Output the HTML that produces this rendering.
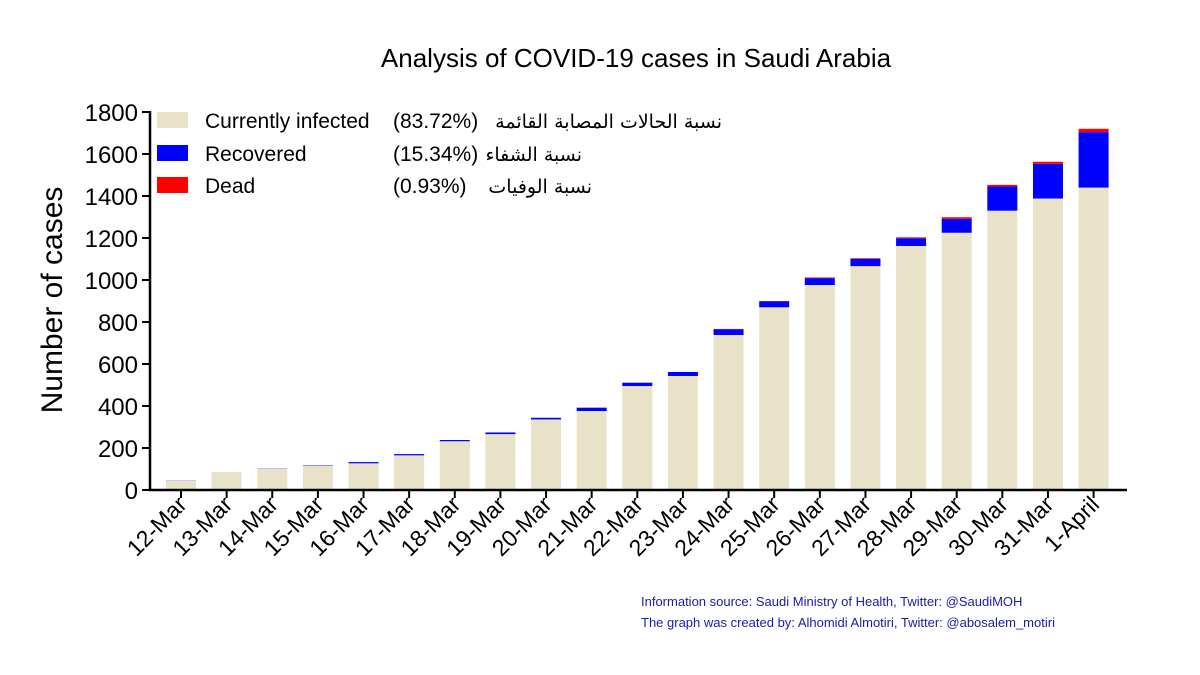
<!DOCTYPE html>
<html><head><meta charset="utf-8"><style>
body{margin:0;background:#fff;}
svg{display:block;font-family:"Liberation Sans",Arial,sans-serif;}
</style></head><body>
<svg id="chart" width="1200" height="675" viewBox="0 0 1200 675">
<text x="636" y="67" text-anchor="middle" font-size="26">Analysis of COVID-19 cases in Saudi Arabia</text>
<text transform="translate(62,300) rotate(-90)" text-anchor="middle" font-size="30">Number of cases</text>
<g id="bars"></g>
<g id="axes"></g>
<g font-size="21">
 <g>
  <rect x="157" y="112" width="31" height="16" fill="#e8e2c8"/>
  <text x="205" y="128">Currently infected</text>
  <text x="393" y="128">(83.72%)</text>
  <text x="722" y="128" text-anchor="start" font-family="'DejaVu Sans',sans-serif" font-size="19" direction="rtl">نسبة الحالات المصابة القائمة</text>
 </g>
 <g>
  <rect x="157" y="145" width="31" height="16" fill="#0000ff"/>
  <text x="205" y="161">Recovered</text>
  <text x="393" y="161">(15.34%)</text>
  <text x="582" y="161" text-anchor="start" font-family="'DejaVu Sans',sans-serif" font-size="19" direction="rtl">نسبة الشفاء</text>
 </g>
 <g>
  <rect x="157" y="177" width="31" height="16" fill="#ff0000"/>
  <text x="205" y="193">Dead</text>
  <text x="393" y="193">(0.93%)</text>
  <text x="592" y="193" text-anchor="start" font-family="'DejaVu Sans',sans-serif" font-size="19" direction="rtl">نسبة الوفيات</text>
 </g>
</g>
<text x="641" y="606" font-size="13" fill="#1a1ab0">Information source:  Saudi Ministry of Health, Twitter: @SaudiMOH</text>
<text x="641" y="627" font-size="13" fill="#1a1ab0">The graph was created by: Alhomidi Almotiri, Twitter: @abosalem_motiri</text>
</svg>
<script>
const categories = ["12-Mar","13-Mar","14-Mar","15-Mar","16-Mar","17-Mar","18-Mar","19-Mar","20-Mar","21-Mar","22-Mar","23-Mar","24-Mar","25-Mar","26-Mar","27-Mar","28-Mar","29-Mar","30-Mar","31-Mar","1-April"];
const infected = [44,86,102,116,127,165,232,266,336,376,495,543,738,870,976,1066,1162,1225,1330,1388,1440];
const recovered = [1,0,1,2,6,6,6,8,8,16,16,19,28,29,33,35,37,66,115,165,264];
const dead = [0,0,0,0,0,0,0,0,0,0,0,0,1,1,3,3,4,8,8,10,16];
const yTicks = [0,200,400,600,800,1000,1200,1400,1600,1800];

const NS = "http://www.w3.org/2000/svg";
const x0 = 150, x1 = 1127, y0 = 490, yTop = 112, yMax = 1800;
const step = 45.63, firstC = 181, bw = 30;
function yScale(v){ return y0 - v / yMax * (y0 - yTop); }
function xScale(i){ return firstC + i * step; }
function mk(tag, attrs, parent){ const e = document.createElementNS(NS, tag); for (const k in attrs) e.setAttribute(k, attrs[k]); parent.appendChild(e); return e; }

const bars = document.getElementById('bars');
const axes = document.getElementById('axes');
categories.forEach((c, i) => {
  const cx = xScale(i);
  const segs = [[infected[i], '#e8e2c8', 'bar-infected-'], [recovered[i], '#0000ff', 'bar-recovered-'], [dead[i], '#ff0000', 'bar-dead-']];
  let base = 0;
  segs.forEach(s => {
    if (s[0] <= 0) return;
    const r = mk('rect', {x: cx - bw/2, y: yScale(base + s[0]), width: bw, height: yScale(base) - yScale(base + s[0]), fill: s[1]}, bars);
    
    
    base += s[0];
  });
  const t = mk('line', {x1: cx, x2: cx, y1: y0, y2: y0 + 8, stroke: '#000', 'stroke-width': 2}, axes);
  
  
  const lb = mk('text', {transform: `translate(${cx + 7},${y0 + 16}) rotate(-45)`, 'text-anchor': 'end', 'font-size': 23}, axes);
  lb.textContent = c;
  
  
});
const ya = mk('line', {x1: x0, x2: x0, y1: yTop - 1, y2: y0 + 1, stroke: '#000', 'stroke-width': 2.5}, axes);


const xa = mk('line', {x1: x0 - 1, x2: x1, y1: y0, y2: y0, stroke: '#000', 'stroke-width': 2.5}, axes);


yTicks.forEach(v => {
  const y = yScale(v);
  const t = mk('line', {x1: x0 - 8, x2: x0, y1: y, y2: y, stroke: '#000', 'stroke-width': 2}, axes);
  
  
  const lb = mk('text', {x: 138, y: y + 9, 'text-anchor': 'end', 'font-size': 24}, axes);
  lb.textContent = v;
  
  
});
</script>
</body></html>
